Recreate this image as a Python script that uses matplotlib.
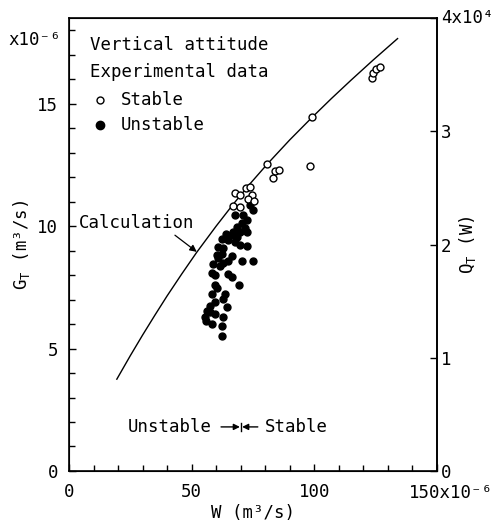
import matplotlib
matplotlib.use("Agg")
import matplotlib.pyplot as plt
from matplotlib.ticker import MultipleLocator

plt.rcParams["font.family"] = ["DejaVu Sans Mono"]
plt.rcParams["mathtext.fontset"] = "custom"
plt.rcParams["mathtext.rm"] = "DejaVu Sans Mono"
plt.rcParams["mathtext.it"] = "DejaVu Sans Mono"
plt.rcParams["font.size"] = 12.5

# calculation curve, W (x1e-6 m3/s) vs G_T (x1e-6 m3/s)
calc_w = [19.5, 25, 30, 35, 40, 46, 52, 60, 67, 74, 81, 90, 99, 107, 115, 124, 134]
calc_g = [3.75, 4.71, 5.55, 6.36, 7.15, 8.05, 8.92, 10.0, 10.9, 11.75, 12.55,
          13.52, 14.43, 15.21, 15.96, 16.78, 17.66]

# experimental data, stable
stable_w = [67.7, 69.7, 72.2, 73.8, 74.6, 73.0, 75.4, 66.9, 69.7,
            80.8, 84.0, 85.7, 83.3, 98.2, 99.3, 123.4, 124.0, 125.4, 126.8]
stable_g = [11.36, 11.28, 11.57, 11.61, 11.28, 11.12, 11.03, 10.83, 10.79,
            12.55, 12.27, 12.30, 11.96, 12.46, 14.44, 16.05, 16.25, 16.40, 16.50]

# experimental data, unstable
unstable_w = [73.8, 75.0, 67.7, 70.9, 72.6, 70.5, 68.5, 71.8, 66.9, 69.7,
              64.0, 66.4, 68.5, 62.4, 64.8, 67.7, 69.7, 60.7, 62.8, 72.6,
              62.4, 60.3, 66.4, 64.8, 62.8, 70.5, 75.0, 58.7, 61.6, 58.3,
              59.5, 64.8, 66.4, 59.5, 69.3, 60.3, 58.3, 63.6, 62.8, 59.5,
              57.5, 64.4, 56.3, 59.5, 62.8, 55.4, 55.9, 58.3, 62.4, 62.4,
              72.6, 60.7, 57.5]
unstable_g = [10.87, 10.67, 10.46, 10.46, 10.26, 10.13, 9.97, 9.93, 9.77, 9.77,
              9.69, 9.64, 9.56, 9.48, 9.44, 9.36, 9.24, 9.15, 9.11, 9.19,
              8.87, 8.83, 8.79, 8.58, 8.50, 8.58, 8.58, 8.46, 8.38, 8.09,
              8.01, 8.05, 7.93, 7.60, 7.60, 7.48, 7.23, 7.23, 7.03, 6.91,
              6.74, 6.70, 6.54, 6.42, 6.29, 6.29, 6.13, 6.01, 5.93, 5.52,
              9.77, 8.70, 6.50]

x_ticks = [0, 50, 100, 150]
x_tick_labels = ["0", "50", "100", ""]
y_ticks = [0, 5, 10, 15]
q_ticks = [0, 1, 2, 3, 4]
q_tick_labels = ["0", "1", "2", "3", "4x10⁴"]

fig = plt.figure(figsize=(4.93, 5.27), dpi=100)
ax = fig.add_axes([0.140, 0.1063, 0.746, 0.8595])

ax.plot(calc_w, calc_g, color="black", lw=1.0)
ax.plot(unstable_w, unstable_g, "o", ms=5.0, mfc="black", mec="black", ls="none")
ax.plot(stable_w, stable_g, "o", ms=5.0, mfc="white", mec="black", mew=1.0, ls="none")

ax.set_xlim(0, 150)
ax.set_ylim(0, 18.5)
ax.set_xticks(x_ticks)
ax.set_xticklabels(x_tick_labels)
ax.set_yticks(y_ticks)
ax.xaxis.set_minor_locator(MultipleLocator(10))
ax.yaxis.set_minor_locator(MultipleLocator(1))
ax.tick_params(which="both", direction="in", top=False, right=False, width=1.0)
ax.tick_params(which="major", length=5)
ax.tick_params(which="minor", length=4)
ax.tick_params(axis="y", pad=8)
ax.tick_params(axis="x", pad=9)
for sp in ax.spines.values():
    sp.set_linewidth(1.2)

ax.set_xlabel("W (m³/s)", labelpad=2)
ax.text(-0.128, 0.5, "G$_\\mathrm{T}$ (m³/s)", transform=ax.transAxes,
        rotation=90, ha="center", va="center")

ax2 = ax.twinx()
ax2.set_ylim(0, 4)
ax2.set_yticks(q_ticks)
ax2.set_yticklabels(q_tick_labels)
ax2.tick_params(direction="in", length=5, width=1.0, pad=3)
ax2.spines["right"].set_linewidth(1.2)
ax2.get_yticklabels()[-1].set_verticalalignment("center")
ax.text(1.084, 0.5, "Q$_\\mathrm{T}$ (W)", transform=ax.transAxes,
        rotation=90, ha="center", va="center")

# scale factors
ax.text(-0.166, 0.952, "x10⁻⁶", transform=ax.transAxes, ha="left", va="center")
ax.text(0.925, -0.028, "150x10⁻⁶", transform=ax.transAxes, ha="left", va="top")

# key
ax.text(0.057, 0.940, "Vertical attitude", transform=ax.transAxes, va="center")
ax.text(0.057, 0.881, "Experimental data", transform=ax.transAxes, va="center")
ax.plot([0.084], [0.819], "o", ms=5.0, mfc="white", mec="black", mew=1.0,
        transform=ax.transAxes)
ax.text(0.141, 0.819, "Stable", transform=ax.transAxes, va="center")
ax.plot([0.084], [0.764], "o", ms=6.0, mfc="black", mec="black",
        transform=ax.transAxes)
ax.text(0.141, 0.764, "Unstable", transform=ax.transAxes, va="center")

# calculation label
ax.text(51.0, 10.12, "Calculation", ha="right", va="center")
ax.annotate("", xy=(52.1, 8.95), xytext=(43.2, 9.63),
            arrowprops=dict(arrowstyle="-|>", color="black", lw=0.9,
                            mutation_scale=10, shrinkA=0, shrinkB=0))

# stability boundary marker
ax.text(58.3, 1.8, "Unstable", ha="right", va="center")
ax.text(79.9, 1.8, "Stable", ha="left", va="center")
ax.annotate("", xy=(69.7, 1.8), xytext=(62.0, 1.8),
            arrowprops=dict(arrowstyle="-|>", color="black", lw=1.0,
                            mutation_scale=9, shrinkA=0, shrinkB=0))
ax.annotate("", xy=(70.6, 1.8), xytext=(77.0, 1.8),
            arrowprops=dict(arrowstyle="-|>", color="black", lw=1.0,
                            mutation_scale=9, shrinkA=0, shrinkB=0))
ax.plot([70.15, 70.15], [1.62, 1.98], color="black", lw=1.0)

fig.savefig("out.png", dpi=100)
